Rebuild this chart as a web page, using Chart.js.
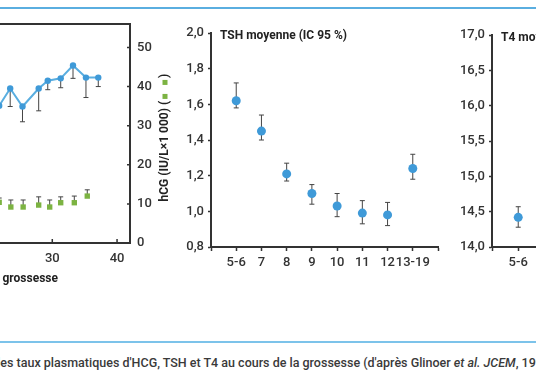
<!DOCTYPE html>
<html>
<head>
<meta charset="utf-8">
<script src="https://cdn.jsdelivr.net/npm/chart.js@4.4.1/dist/chart.umd.min.js"></script>
<style>
  html, body { margin: 0; padding: 0; background: #fff; }
  body { width: 536px; height: 386px; overflow: hidden; position: relative; font-family: Roboto, sans-serif; }
  canvas { position: absolute; top: 0; }
  .rule { position: absolute; left: 0; width: 536px; height: 2px; }
  #caption { position: absolute; top: 355px; white-space: nowrap; font-size: 12.5px; color: #3a3a3a; font-weight: 500; }
</style>
</head>
<body>
<div class="rule" style="top:7px;background:#5aaee0"></div>
<canvas id="hcgChart" width="400" height="300" style="left:-220px"></canvas>
<canvas id="tshChart" width="300" height="300" style="left:150px"></canvas>
<canvas id="t4Chart" width="300" height="300" style="left:440px"></canvas>
<div class="rule" style="top:341px;background:#7cc3ea"></div>
<div id="caption"><span id="pre">Figure 2 – Évolution d</span>es taux plasmatiques d'HCG, TSH et T4 au cours de la grossesse (d'après Glinoer <i>et al.</i> <i>JCEM</i>, 1990).</div>
<script>
// --- Left panel: weeks of pregnancy ---
const blueWeeks  = [21.8, 23.5, 25.4, 27.9, 29.3, 31.3, 33.2, 35.2, 37.1];
const blueValues = [35.1, 39.5, 34.9, 39.5, 41.5, 42.1, 45.4, 42.3, 42.3];
const blueLow    = [null, 34.9, 31.0, 33.8, 39.2, 39.7, 42.1, 37.2, 40.0];

const hcgWeeks  = [21.8, 23.6, 25.5, 27.9, 29.6, 31.3, 33.4, 35.4];
const hcgValues = [10.4, 9.2, 9.2, 9.7, 9.2, 10.3, 10.3, 12.0];
const hcgHigh   = [11.5, 11.0, 11.0, 11.8, 11.0, 11.8, 12.0, 13.6];

// --- TSH / T4 panels (weeks as categories, blank ends) ---
const weekLabels = ['', '5-6', '7', '8', '9', '10', '11', '12', '13-19', ''];
const tshValues = [null, 1.62, 1.45, 1.21, 1.10, 1.03, 0.99, 0.98, 1.24, null];
const tshLow    = [null, 1.58, 1.40, 1.17, 1.04, 0.97, 0.93, 0.92, 1.18, null];
const tshHigh   = [null, 1.72, 1.54, 1.27, 1.15, 1.10, 1.06, 1.05, 1.32, null];
const t4Values  = [null, 14.42, null, null, null, null, null, null, null, null];
const t4Low     = [null, 14.28, null, null, null, null, null, null, null, null];
const t4High    = [null, 14.57, null, null, null, null, null, null, null, null];

const ink = '#333';
const blue = '#3f9ad8';
const green = '#7cb342';
const tickFont = { family: 'Roboto', size: 13, weight: '500' };

// error bars drawn under the markers
function errorBars(list) {
  return {
    id: 'errorBars',
    beforeDatasetsDraw(chart) {
      const ctx = chart.ctx;
      ctx.save();
      ctx.strokeStyle = '#444';
      ctx.lineWidth = 1;
      list.forEach(b => {
        const xs = chart.scales.x, ys = chart.scales[b.axis];
        b.x.forEach((xv, i) => {
          const lo = b.lo ? b.lo[i] : b.mid[i];
          const hi = b.hi ? b.hi[i] : b.mid[i];
          if (lo == null || hi == null) return;
          const px = xs.getPixelForValue(xv);
          const y1 = ys.getPixelForValue(lo), y2 = ys.getPixelForValue(hi);
          ctx.beginPath();
          ctx.moveTo(px, y1); ctx.lineTo(px, y2);
          if (b.lo) { ctx.moveTo(px - 2.5, y1); ctx.lineTo(px + 2.5, y1); }
          if (b.hi) { ctx.moveTo(px - 2.5, y2); ctx.lineTo(px + 2.5, y2); }
          ctx.stroke();
        });
      });
      ctx.restore();
    }
  };
}

function fixedWidth(w) { return s => { s.width = w; }; }
function fixedHeight(h) { return s => { s.height = h; }; }

// --- Left chart: blue series + hCG ---
const hcgDecor = {
  id: 'hcgDecor',
  afterDraw(chart) {
    const { ctx, chartArea: a } = chart;
    const xs = chart.scales.x, yr = chart.scales.yR;
    ctx.save();
    ctx.strokeStyle = ink;
    ctx.lineWidth = 2;
    ctx.beginPath();
    ctx.moveTo(a.left, a.top); ctx.lineTo(a.right + 1, a.top);
    ctx.stroke();
    // inward ticks
    ctx.lineWidth = 1.5;
    ctx.beginPath();
    xs.ticks.forEach(t => {
      const px = xs.getPixelForValue(t.value);
      ctx.moveTo(px, a.bottom); ctx.lineTo(px, a.bottom - 4);
    });
    yr.ticks.forEach(t => {
      const py = yr.getPixelForValue(t.value);
      ctx.moveTo(a.right, py); ctx.lineTo(a.right - 3, py);
    });
    ctx.stroke();
    // x title
    ctx.fillStyle = '#222';
    ctx.font = 'bold 12px Roboto';
    ctx.textAlign = 'center';
    ctx.textBaseline = 'middle';
    ctx.fillText('Semaines de grossesse', (a.left + a.right) / 2, 279);
    // right title, reading upwards
    ctx.translate(a.right + 35, (a.top + a.bottom) / 2);
    ctx.rotate(-Math.PI / 2);
    ctx.textAlign = 'left';
    const txt = 'hCG (IU/L×1 000) (';
    ctx.fillText(txt, -68, 0);
    const w = ctx.measureText(txt).width;
    ctx.fillStyle = green;
    ctx.fillRect(-68 + w + 2, -2.5, 5, 5);
    ctx.fillRect(-68 + w + 16, -2.5, 5, 5);
    ctx.fillStyle = '#222';
    ctx.fillText(')', -68 + w + 23, 0);
    ctx.restore();
  }
};

new Chart(document.getElementById('hcgChart'), {
  type: 'scatter',
  data: {
    datasets: [
      {
        data: blueWeeks.map((w, i) => ({ x: w, y: blueValues[i] })),
        yAxisID: 'yL',
        showLine: true,
        borderColor: '#5aaee0',
        borderWidth: 2,
        pointRadius: 3.2,
        pointBackgroundColor: blue,
        pointBorderWidth: 0
      },
      {
        data: hcgWeeks.map((w, i) => ({ x: w, y: hcgValues[i] })),
        yAxisID: 'yR',
        pointStyle: 'rect',
        pointRadius: 3.8,
        pointBackgroundColor: green,
        pointBorderWidth: 0
      }
    ]
  },
  options: {
    responsive: false,
    animation: false,
    layout: { padding: { top: 24, left: 0, right: 0, bottom: 0 } },
    plugins: { legend: { display: false }, tooltip: { enabled: false } },
    scales: {
      x: {
        type: 'linear', min: 0, max: 42,
        ticks: { stepSize: 10, includeBounds: false, color: ink, font: tickFont, padding: 8 },
        grid: { display: false, drawTicks: false },
        border: { color: ink, width: 2 },
        afterFit: fixedHeight(57)
      },
      yL: {
        position: 'left', min: 0, max: 56,
        ticks: { stepSize: 10, includeBounds: false, color: ink, font: tickFont },
        grid: { display: false },
        border: { color: ink, width: 2 },
        afterFit: fixedWidth(78)
      },
      yR: {
        position: 'right', min: 0, max: 56,
        ticks: { stepSize: 10, includeBounds: false, color: ink, font: tickFont, padding: 7 },
        grid: { display: false, drawTicks: false },
        border: { color: ink, width: 2 },
        afterFit: fixedWidth(50)
      }
    }
  },
  plugins: [
    errorBars([
      { x: blueWeeks, mid: blueValues, lo: blueLow, axis: 'yL' },
      { x: hcgWeeks, mid: hcgValues, hi: hcgHigh, axis: 'yR' }
    ]),
    hcgDecor
  ]
});

// --- TSH and T4 panels ---
function panelTitle(text) {
  return {
    id: 'panelTitle',
    afterDraw(chart) {
      const { ctx, chartArea: a } = chart;
      ctx.save();
      ctx.fillStyle = '#222';
      ctx.font = 'bold 12px Roboto';
      ctx.textBaseline = 'middle';
      ctx.fillText(text, a.left + 9, a.top + 3);
      ctx.restore();
    }
  };
}

function meanPanel(id, values, low, high, min, max, step, title, top, leftW) {
  new Chart(document.getElementById(id), {
    type: 'line',
    data: {
      labels: weekLabels,
      datasets: [{
        data: values,
        showLine: false,
        pointRadius: 4.5,
        pointBackgroundColor: blue,
        pointBorderWidth: 0
      }]
    },
    options: {
      responsive: false,
      animation: false,
      layout: { padding: { top: top, left: 0, right: 12, bottom: 0 } },
      plugins: { legend: { display: false }, tooltip: { enabled: false } },
      scales: {
        x: {
          ticks: { color: ink, font: tickFont, padding: 4, autoSkip: false, maxRotation: 0 },
          grid: { drawOnChartArea: false, tickLength: 4, color: ink, tickWidth: 1.5 },
          border: { color: ink, width: 2 },
          afterFit: fixedHeight(300 - 247)
        },
        y: {
          min: min, max: max,
          ticks: {
            stepSize: step, color: ink, font: tickFont, padding: 4,
            callback: v => v.toFixed(1).replace('.', ',')
          },
          grid: { drawOnChartArea: false, tickLength: 3, color: ink, tickWidth: 1.5 },
          border: { color: ink, width: 2 },
          afterFit: fixedWidth(leftW)
        }
      }
    },
    plugins: [
      errorBars([{ x: weekLabels.map((l, i) => i), mid: values, lo: low, hi: high, axis: 'y' }]),
      panelTitle(title)
    ]
  });
}

meanPanel('tshChart', tshValues, tshLow, tshHigh, 0.8, 2.0, 0.2, 'TSH moyenne (IC 95 %)', 33, 61);
meanPanel('t4Chart', t4Values, t4Low, t4High, 14.0, 17.0, 0.5, 'T4 moyenne (IC 95 %)', 35, 52);

// --- caption starts off the left edge ---
const pre = document.getElementById('pre');
document.getElementById('caption').style.left = (-pre.offsetWidth) + 'px';
</script>
</body>
</html>
